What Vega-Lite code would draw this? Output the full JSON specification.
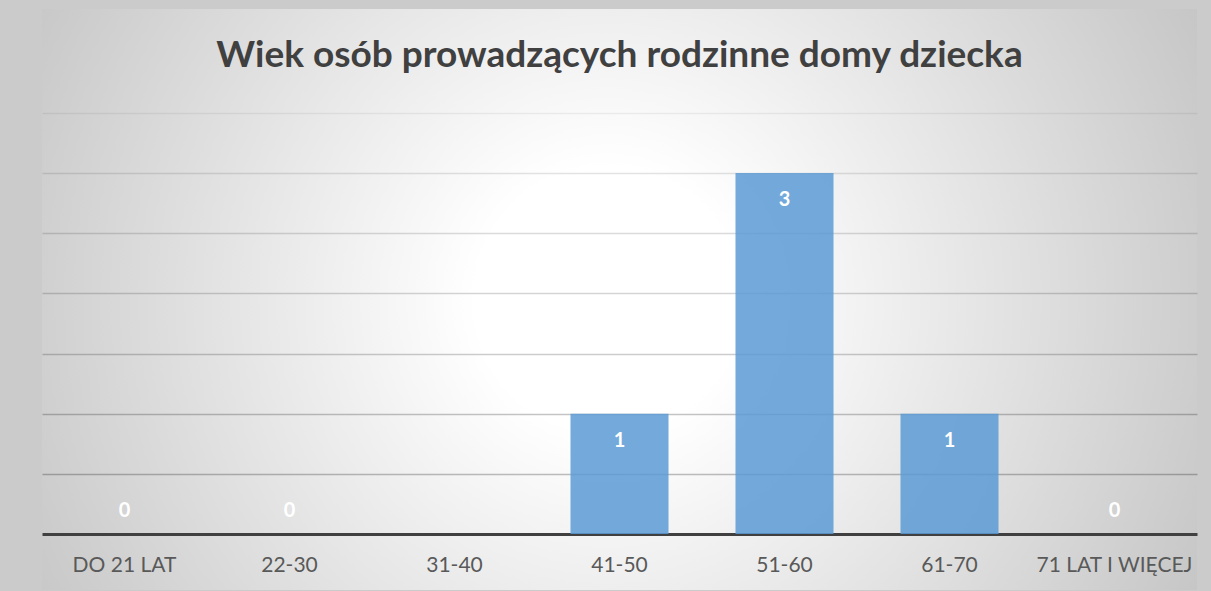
{
  "$schema": "https://vega.github.io/schema/vega-lite/v6.json",
  "width": 1155,
  "height": 581,
  "autosize": {"type": "none"},
  "padding": {"left": 42, "top": 9, "right": 14, "bottom": 1},
  "background": "#cbcbcb",
  "title": {
    "text": "Wiek osób prowadzących rodzinne domy dziecka",
    "font": "Lato",
    "fontSize": 37,
    "fontWeight": "bold",
    "color": "#404040",
    "anchor": "middle",
    "baseline": "alphabetic",
    "offset": -95
  },
  "data": {
    "values": [
      {"wiek": "DO 21 LAT", "liczba": 0},
      {"wiek": "22-30", "liczba": 0},
      {"wiek": "31-40", "liczba": null},
      {"wiek": "41-50", "liczba": 1},
      {"wiek": "51-60", "liczba": 3},
      {"wiek": "61-70", "liczba": 1},
      {"wiek": "71 LAT I WIĘCEJ", "liczba": 0}
    ]
  },
  "encoding": {
    "x": {
      "field": "wiek",
      "type": "nominal",
      "sort": null,
      "scale": {
        "domain": ["DO 21 LAT", "22-30", "31-40", "41-50", "51-60", "61-70", "71 LAT I WIĘCEJ"],
        "paddingInner": 0.406,
        "paddingOuter": 0.203
      },
      "axis": {
        "orient": "bottom",
        "offset": -56,
        "title": null,
        "labelAngle": 0,
        "labelFont": "Lato",
        "labelFontSize": 21,
        "labelColor": "#595959",
        "labelPadding": 20,
        "ticks": false,
        "domain": true,
        "domainColor": "#404040",
        "domainWidth": 3,
        "grid": false
      }
    },
    "y": {
      "field": "liczba",
      "type": "quantitative",
      "scale": {"domain": [-0.4655, 4.364], "nice": false, "zero": false},
      "axis": {
        "title": null,
        "labels": false,
        "ticks": false,
        "domain": false,
        "grid": true,
        "values": [0.5, 1, 1.5, 2, 2.5, 3, 3.5],
        "gridWidth": 1.5,
        "gridColor": {
          "condition": [
            {"test": "datum.value < 0.75", "value": "rgba(0,0,0,0.25)"},
            {"test": "datum.value < 1.25", "value": "rgba(0,0,0,0.23)"},
            {"test": "datum.value < 1.75", "value": "rgba(0,0,0,0.2)"},
            {"test": "datum.value < 2.25", "value": "rgba(0,0,0,0.17)"},
            {"test": "datum.value < 2.75", "value": "rgba(0,0,0,0.14)"},
            {"test": "datum.value < 3.25", "value": "rgba(0,0,0,0.11)"}
          ],
          "value": "rgba(0,0,0,0.06)"
        }
      }
    }
  },
  "layer": [
    {
      "mark": {"type": "bar", "color": "#5B9BD5", "opacity": 0.85},
      "encoding": {"y2": {"datum": 0}}
    },
    {
      "transform": [{"filter": "datum.liczba > 0"}],
      "mark": {"type": "text", "font": "Lato", "fontSize": 20, "fontWeight": "bold", "color": "#ffffff", "baseline": "middle", "dy": 27},
      "encoding": {"text": {"field": "liczba", "type": "quantitative"}}
    },
    {
      "transform": [{"filter": "datum.liczba === 0"}],
      "mark": {"type": "text", "font": "Lato", "fontSize": 20, "fontWeight": "bold", "color": "#ffffff", "baseline": "middle", "dy": -23},
      "encoding": {"text": {"field": "liczba", "type": "quantitative"}}
    }
  ],
  "config": {
    "view": {
      "stroke": null,
      "fill": {
        "gradient": "radial",
        "x1": 0.49, "y1": 0.5, "r1": 0,
        "x2": 0.49, "y2": 0.5, "r2": 0.571,
        "stops": [
          {"offset": 0, "color": "#ffffff"},
          {"offset": 0.2, "color": "#ffffff"},
          {"offset": 1, "color": "#c6c6c6"}
        ]
      }
    }
  }
}
